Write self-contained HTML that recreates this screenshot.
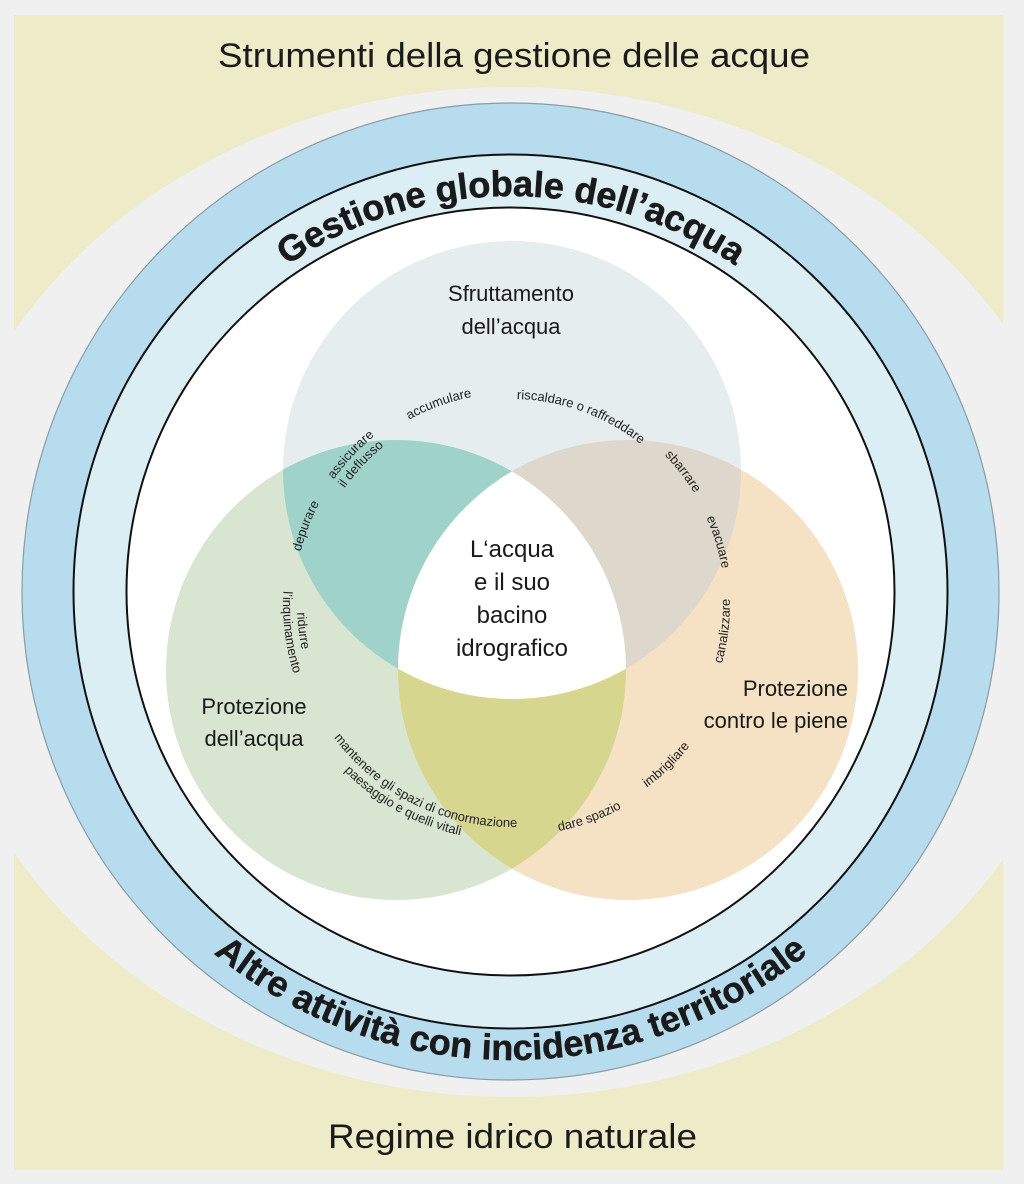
<!DOCTYPE html>
<html><head><meta charset="utf-8"><style>
html,body{margin:0;padding:0;background:#f0f0f0;}
svg{display:block;font-family:"Liberation Sans",sans-serif;}
</style></head><body>
<svg id="s" width="1024" height="1184" viewBox="0 0 1024 1184" xmlns="http://www.w3.org/2000/svg">
<defs>
<clipPath id="cT"><circle cx="512" cy="470" r="229"/></clipPath>
<clipPath id="cL"><circle cx="396" cy="670" r="230"/></clipPath>
<clipPath id="cR"><circle cx="628" cy="670" r="230"/></clipPath>
<path id="topArc" d="M 115 592 A 396 396 0 0 1 907 592"/>
<path id="botArc" d="M 43 592 A 468 468 0 0 0 979 592"/>
</defs>
<rect x="0" y="0" width="1024" height="1184" fill="#f0f0f0"/>
<rect x="14" y="15" width="989" height="1155" fill="#edebc8"/>
<ellipse cx="511" cy="592" rx="580" ry="505" fill="#f0f0f0"/>
<rect x="0" y="0" width="14" height="1184" fill="#f0f0f0"/>
<rect x="1003" y="0" width="21" height="1184" fill="#f0f0f0"/>
<rect x="0" y="1170" width="1024" height="14" fill="#f0f0f0"/>
<circle cx="510.5" cy="591.5" r="488.5" fill="#b6dcee" stroke="#8a9ca4" stroke-width="1.2"/>
<circle cx="510.5" cy="591.5" r="437" fill="#daeef4" stroke="#111" stroke-width="2"/>
<circle cx="510.5" cy="591.5" r="384" fill="#fff" stroke="#111" stroke-width="2"/>

<text x="218" y="67" font-size="34" textLength="592" lengthAdjust="spacingAndGlyphs" fill="#1a1a1a">Strumenti della gestione delle acque</text>
<text x="328" y="1148" font-size="34" textLength="369" lengthAdjust="spacingAndGlyphs" fill="#1a1a1a">Regime idrico naturale</text>

<text font-size="36" font-weight="bold" fill="#1a1a1a" stroke="#1a1a1a" stroke-width="0.6"><textPath href="#topArc" startOffset="50%" text-anchor="middle">Gestione globale dell’acqua</textPath></text>
<text font-size="36" font-weight="bold" fill="#1a1a1a" stroke="#1a1a1a" stroke-width="0.5"><textPath href="#botArc" startOffset="50%" text-anchor="middle">Altre attività con incidenza territoriale</textPath></text>

<circle cx="512" cy="470" r="229" fill="#e6edef"/>
<circle cx="396" cy="670" r="230" fill="#d8e5d0"/>
<circle cx="628" cy="670" r="230" fill="#f5e1c4"/>
<g clip-path="url(#cT)"><circle cx="396" cy="670" r="230" fill="#9fd3c9"/><circle cx="628" cy="670" r="230" fill="#ddd7cc"/></g>
<g clip-path="url(#cL)"><circle cx="628" cy="670" r="230" fill="#d6d68f"/></g>
<g clip-path="url(#cL)"><g clip-path="url(#cR)"><circle cx="512" cy="470" r="229" fill="#fff"/></g></g>

<g font-size="22" fill="#1a1a1a" text-anchor="middle">
<text x="511" y="301">Sfruttamento</text>
<text x="511" y="334">dell’acqua</text>
<text x="254" y="714">Protezione</text>
<text x="254" y="746">dell’acqua</text>
<text x="848" y="696" text-anchor="end">Protezione</text>
<text x="848" y="728" text-anchor="end">contro le piene</text>
</g>
<g font-size="24" fill="#1a1a1a" text-anchor="middle">
<text x="512" y="557">L‘acqua</text>
<text x="512" y="590">e il suo</text>
<text x="512" y="623">bacino</text>
<text x="512" y="656">idrografico</text>
</g>
<g id="labels" font-size="13" fill="#222"></g>
</svg>
<script>
(function(){
var cx=512,cy=605,g=document.getElementById('labels'),NS='http://www.w3.org/2000/svg',n=0;
function pt(t,r){var a=t*Math.PI/180;return [cx+r*Math.sin(a),cy-r*Math.cos(a)];}
function L(txt,th,rc,cw){
 var rb=cw?rc-4:rc+4,a,b,d;
 if(cw){a=pt(th-90,rb);b=pt(th+90,rb);d='M '+a[0]+' '+a[1]+' A '+rb+' '+rb+' 0 0 1 '+b[0]+' '+b[1];}
 else{a=pt(th+90,rb);b=pt(th-90,rb);d='M '+a[0]+' '+a[1]+' A '+rb+' '+rb+' 0 0 0 '+b[0]+' '+b[1];}
 var id='lp'+(n++),p=document.createElementNS(NS,'path');p.setAttribute('id',id);p.setAttribute('d',d);p.setAttribute('fill','none');
 g.appendChild(p);
 var t=document.createElementNS(NS,'text'),tp=document.createElementNS(NS,'textPath');
 tp.setAttribute('href','#'+id);tp.setAttribute('startOffset','50%');tp.setAttribute('text-anchor','middle');tp.textContent=txt;
 t.appendChild(tp);g.appendChild(t);
}
L('accumulare',-20,216,1);
L('riscaldare o raffreddare',20,210,1);
L('sbarrare',52,218,1);
L('evacuare',73,217,1);
L('canalizzare',97,214,0);
L('imbrigliare',136,223,0);
L('dare spazio',160,227,0);
L('mantenere gli spazi di conormazione',206,218,0);
L('paesaggio e quelli vitali',209,232,0);
L('ridurre',263,211,0);
L('l’inquinamento',263,225,0);
L('depurare',291,222,1);
L('assicurare',313,222,1);
L('il deflusso',313,208,1);
})();
</script>
</body></html>
